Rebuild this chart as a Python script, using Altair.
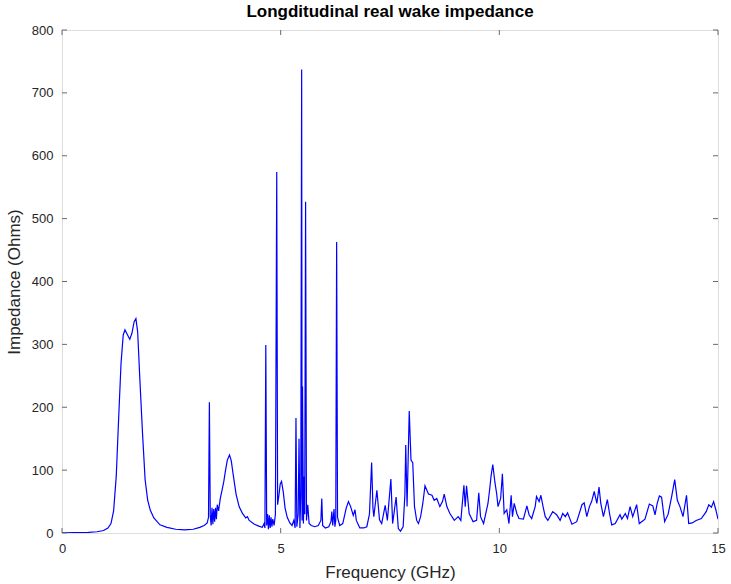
import altair as alt
import pandas as pd

# Frequency (GHz) and real longitudinal impedance (Ohms)
freq = [
    0.00, 0.30, 0.60, 0.80, 0.95, 1.05, 1.12, 1.18, 1.24, 1.30, 1.35, 1.40, 1.44, 1.49, 1.55,
    1.60, 1.65, 1.69, 1.73, 1.78, 1.84, 1.90, 1.96, 2.02, 2.10, 2.24, 2.40, 2.60, 2.80, 3.00,
    3.15, 3.25, 3.32, 3.35, 3.37, 3.39, 3.41, 3.43, 3.45, 3.47, 3.49, 3.51, 3.53, 3.55, 3.58,
    3.62, 3.66, 3.70, 3.74, 3.78, 3.83, 3.87, 3.92, 3.98, 4.05, 4.12, 4.20, 4.24, 4.28, 4.40,
    4.50, 4.58, 4.62, 4.64, 4.66, 4.68, 4.70, 4.72, 4.74, 4.76, 4.78, 4.80, 4.82, 4.85, 4.88,
    4.91, 4.93, 4.96, 4.99, 5.02, 5.06, 5.10, 5.15, 5.21, 5.26, 5.30, 5.33, 5.35, 5.37, 5.40,
    5.42, 5.44, 5.46, 5.48, 5.49, 5.50, 5.52, 5.54, 5.55, 5.57, 5.59, 5.62, 5.65, 5.70, 5.78,
    5.86, 5.92, 5.94, 5.96, 6.02, 6.10, 6.15, 6.17, 6.19, 6.22, 6.24, 6.26, 6.28, 6.30, 6.35,
    6.42, 6.50, 6.55, 6.60, 6.66, 6.70, 6.73, 6.77, 6.81, 6.90, 6.97, 7.03, 7.08, 7.11, 7.13,
    7.20, 7.26, 7.31, 7.39, 7.44, 7.52, 7.56, 7.64, 7.69, 7.74, 7.80, 7.84, 7.86, 7.89, 7.94,
    7.98, 8.02, 8.06, 8.11, 8.15, 8.20, 8.25, 8.30, 8.38, 8.46, 8.51, 8.57, 8.64, 8.70, 8.74,
    8.80, 8.87, 8.97, 9.06, 9.12, 9.19, 9.22, 9.25, 9.31, 9.40, 9.48, 9.53, 9.57, 9.64, 9.74,
    9.78, 9.81, 9.85, 9.90, 9.94, 9.97, 10.03, 10.07, 10.11, 10.17, 10.22, 10.27, 10.30, 10.34, 10.40,
    10.45, 10.55, 10.63, 10.68, 10.74, 10.82, 10.85, 10.91, 10.95, 11.00, 11.05, 11.11, 11.22, 11.31, 11.39,
    11.45, 11.51, 11.56, 11.66, 11.77, 11.89, 11.94, 12.00, 12.06, 12.11, 12.17, 12.23, 12.28, 12.32, 12.38,
    12.47, 12.52, 12.57, 12.65, 12.76, 12.80, 12.88, 12.93, 12.99, 13.05, 13.14, 13.20, 13.33, 13.43, 13.51,
    13.56, 13.61, 13.66, 13.71, 13.78, 13.86, 13.94, 14.01, 14.07, 14.13, 14.20, 14.28, 14.33, 14.41, 14.50,
    14.62, 14.73, 14.79, 14.85, 14.90, 14.95, 15.00,
]
impedance = [
    0.3, 0.5, 1, 2, 4, 8, 15, 35, 90, 190, 270, 315, 323, 316, 308,
    318, 336, 341, 320, 245, 160, 85, 52, 36, 24, 13, 9, 6, 5, 6,
    9, 12, 16, 25, 208, 28, 12, 40, 14, 38, 18, 40, 22, 45, 35,
    55, 68, 82, 100, 116, 124, 115, 90, 62, 42, 32, 24, 26, 20, 14,
    11, 9, 15, 8, 299, 12, 30, 6, 28, 8, 25, 10, 22, 12, 30,
    574, 45, 60, 78, 82, 65, 40, 25, 16, 12, 20, 8, 183, 10, 30,
    150, 8, 60, 737, 20, 233, 15, 90, 30, 527, 20, 45, 15, 12, 10,
    12, 20, 55, 12, 8, 10, 18, 34, 12, 38, 10, 20, 463, 25, 12,
    15, 40, 50, 42, 28, 37, 20, 14, 8, 8, 10, 30, 112, 40, 26,
    68, 21, 15, 44, 20, 86, 15, 57, 7, 3, 10, 60, 140, 42, 194,
    116, 112, 42, 20, 15, 26, 47, 75, 62, 60, 52, 55, 42, 50, 62,
    42, 31, 20, 26, 20, 76, 42, 75, 31, 18, 20, 64, 26, 15, 47,
    70, 90, 109, 80, 62, 42, 55, 94, 31, 37, 15, 60, 26, 47, 31,
    23, 22, 43, 29, 23, 42, 58, 50, 60, 42, 26, 20, 34, 29, 20,
    31, 26, 32, 14, 18, 45, 48, 26, 42, 50, 66, 47, 73, 47, 26,
    53, 31, 13, 15, 29, 22, 31, 23, 42, 26, 45, 15, 22, 46, 43,
    29, 47, 59, 57, 18, 30, 58, 85, 52, 42, 26, 60, 15, 16, 20,
    23, 34, 45, 41, 50, 37, 22,
]

x_ticks = [0, 5, 10, 15]
y_ticks = [0, 100, 200, 300, 400, 500, 600, 700, 800]

W, H = 656, 503
FONT = "Liberation Sans"
AX = "#262626"
FRAME = "#6a6a6a"

df = pd.DataFrame({"f": freq, "z": impedance})
xt = pd.DataFrame({"t": x_ticks})
yt = pd.DataFrame({"t": y_ticks})

xscale = alt.Scale(domain=[0, 15], nice=False, zero=False)
yscale = alt.Scale(domain=[0, 800], nice=False)

line = alt.Chart(df).mark_line(color="#0000ff", strokeWidth=1.2, clip=True).encode(
    x=alt.X("f:Q", scale=xscale,
            axis=alt.Axis(title="Frequency (GHz)", values=x_ticks, ticks=False, domain=False,
                          grid=False, labelPadding=9, titlePadding=9, labelFontSize=13,
                          titleFontSize=17, titleFontWeight="normal", labelFont=FONT,
                          titleFont=FONT, labelColor=AX, titleColor=AX, labelFlush=False)),
    y=alt.Y("z:Q", scale=yscale,
            axis=alt.Axis(title="Impedance (Ohms)", values=y_ticks, ticks=False, domain=False,
                          grid=False, labelPadding=9, titlePadding=8, labelFontSize=13,
                          titleFontSize=17, titleFontWeight="normal", labelFont=FONT,
                          titleFont=FONT, labelColor=AX, titleColor=AX, labelFlush=False)),
)

tick_len = 5
xb = alt.Chart(xt).mark_rule(color=FRAME, strokeWidth=1).encode(
    x=alt.X("t:Q", scale=xscale), y=alt.value(H), y2=alt.value(H - tick_len))
xtop = alt.Chart(xt).mark_rule(color=FRAME, strokeWidth=1).encode(
    x=alt.X("t:Q", scale=xscale), y=alt.value(0), y2=alt.value(tick_len))
yl = alt.Chart(yt).mark_rule(color=FRAME, strokeWidth=1).encode(
    y=alt.Y("t:Q", scale=yscale), x=alt.value(0), x2=alt.value(tick_len))
yr = alt.Chart(yt).mark_rule(color=FRAME, strokeWidth=1).encode(
    y=alt.Y("t:Q", scale=yscale), x=alt.value(W), x2=alt.value(W - tick_len))

chart = (
    alt.layer(line, xb, xtop, yl, yr)
    .properties(
        width=W, height=H,
        title=alt.TitleParams("Longditudinal real wake impedance", font=FONT, fontSize=17,
                              fontWeight="bold", color="#000000", anchor="middle", offset=3),
        autosize=alt.AutoSizeParams(type="none"),
        padding={"left": 62, "top": 30, "right": 13, "bottom": 51},
    )
    .configure_view(stroke=FRAME, strokeWidth=1)
    .configure(background="white")
)

chart.save("out.html", embed_options={"renderer": "svg", "actions": False})
